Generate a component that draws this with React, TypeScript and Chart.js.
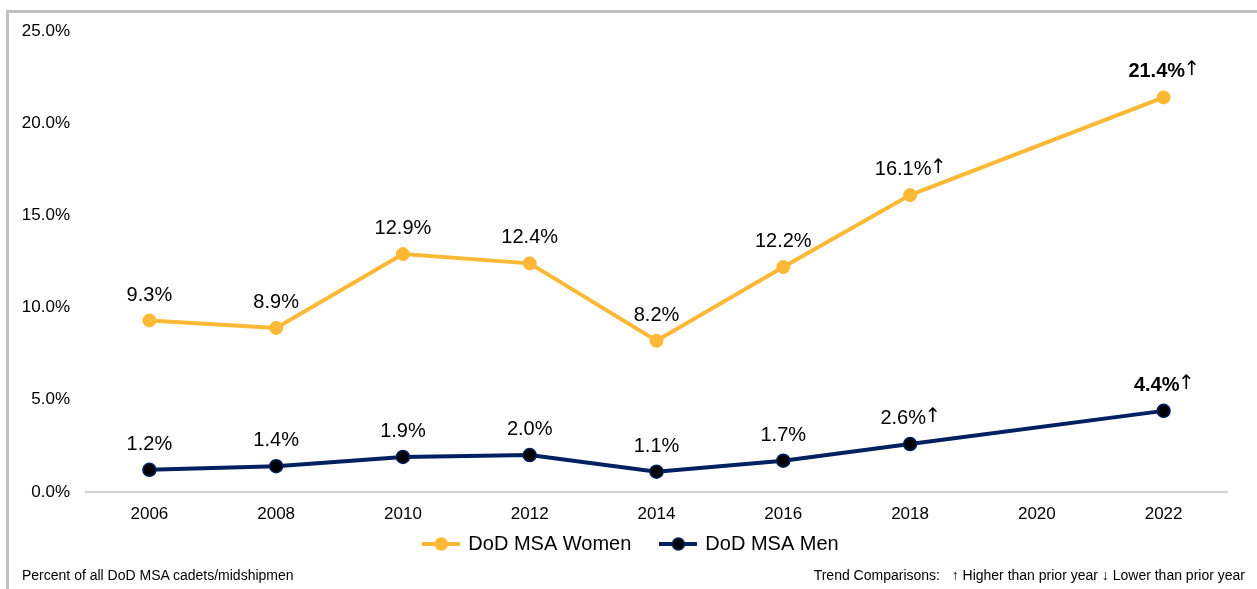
import React, { useEffect, useRef } from "react";
import { Chart, registerables } from "chart.js";

Chart.register(...registerables);

const years = ["2006", "2008", "2010", "2012", "2014", "2016", "2018", "2020", "2022"];
const womenValues: (number | null)[] = [9.3, 8.9, 12.9, 12.4, 8.2, 12.2, 16.1, null, 21.4];
const menValues: (number | null)[] = [1.2, 1.4, 1.9, 2.0, 1.1, 1.7, 2.6, null, 4.4];
const womenLabels = ["9.3%", "8.9%", "12.9%", "12.4%", "8.2%", "12.2%", "16.1%", "", "21.4%"];
const menLabels = ["1.2%", "1.4%", "1.9%", "2.0%", "1.1%", "1.7%", "2.6%", "", "4.4%"];
const arrowIndex = [6, 8];
const boldIndex = [8];
const yTicks = [0, 5, 10, 15, 20, 25];

const WOMEN_COLOR = "#FDB836";
const MEN_COLOR = "#002060";
const FONT = "Arial, 'Liberation Sans', sans-serif";
const ARROW = "↑";

function legendIcon(line: string, fill: string, border: string): HTMLCanvasElement {
  const c = document.createElement("canvas");
  c.width = 38;
  c.height = 16;
  const ctx = c.getContext("2d")!;
  ctx.strokeStyle = line;
  ctx.lineWidth = 4;
  ctx.beginPath();
  ctx.moveTo(0, 8);
  ctx.lineTo(38, 8);
  ctx.stroke();
  ctx.beginPath();
  ctx.arc(19, 8, 6, 0, Math.PI * 2);
  ctx.fillStyle = fill;
  ctx.fill();
  ctx.lineWidth = 1.5;
  ctx.strokeStyle = border;
  ctx.stroke();
  return c;
}

const legendShift = {
  id: "legendShift",
  afterLayout(chart: any) {
    if (chart.legend) {
      chart.legend.top -= 18;
      chart.legend.bottom -= 18;
      chart.legend.left += 18;
      chart.legend.right += 18;
    }
  },
};

const labelPlugin = {
  id: "pointLabels",
  afterDatasetsDraw(chart: any) {
    const ctx = chart.ctx;
    const sets = [womenLabels, menLabels];
    chart.data.datasets.forEach((ds: any, di: number) => {
      const meta = chart.getDatasetMeta(di);
      meta.data.forEach((pt: any, i: number) => {
        const txt = sets[di][i];
        if (!txt || ds.data[i] == null) return;
        ctx.save();
        const mainFont = (boldIndex.includes(i) ? "bold " : "") + "20px " + FONT;
        const arrowFont = "20px 'DejaVu Sans', sans-serif";
        ctx.fillStyle = "#000";
        ctx.textBaseline = "middle";
        ctx.font = mainFont;
        const w1 = ctx.measureText(txt).width;
        let w2 = 0;
        const hasArrow = arrowIndex.includes(i);
        if (hasArrow) {
          ctx.font = arrowFont;
          w2 = ctx.measureText(ARROW).width - 3;
        }
        const total = w1 + w2;
        const x0 = pt.x - total / 2;
        const y = pt.y - 25.5;
        ctx.textAlign = "left";
        ctx.font = mainFont;
        ctx.fillText(txt, x0, y);
        if (hasArrow) {
          ctx.font = arrowFont;
          ctx.fillText(ARROW, x0 + w1 - 1.5, y - 2);
        }
        ctx.restore();
      });
    });
  },
};

export default function App() {
  const ref = useRef<HTMLCanvasElement>(null);
  useEffect(() => {
    const womenIcon = legendIcon(WOMEN_COLOR, WOMEN_COLOR, WOMEN_COLOR);
    const menIcon = legendIcon(MEN_COLOR, "#000", MEN_COLOR);
    const chart = new Chart(ref.current!, {
      type: "line",
      data: {
        labels: years,
        datasets: [
          {
            label: "DoD MSA Women",
            data: womenValues,
            borderColor: WOMEN_COLOR,
            backgroundColor: WOMEN_COLOR,
            pointBackgroundColor: WOMEN_COLOR,
            pointBorderColor: WOMEN_COLOR,
            borderWidth: 4,
            pointRadius: 6.5,
            pointBorderWidth: 1,
            spanGaps: true,
            tension: 0,
          },
          {
            label: "DoD MSA Men",
            data: menValues,
            borderColor: MEN_COLOR,
            backgroundColor: MEN_COLOR,
            pointBackgroundColor: "#000",
            pointBorderColor: MEN_COLOR,
            borderWidth: 4,
            pointRadius: 6.5,
            pointBorderWidth: 1.5,
            spanGaps: true,
            tension: 0,
          },
        ],
      },
      options: {
        animation: false,
        responsive: false,
        layout: { padding: { top: 31, right: 30, bottom: 7, left: 0 } },
        plugins: {
          tooltip: { enabled: false },
          legend: {
            position: "bottom",
            labels: {
              usePointStyle: true,
              pointStyleWidth: 34,
              padding: 30,
              color: "#000",
              font: { family: FONT, size: 20 },
              generateLabels: () => [
                { text: "DoD MSA Women", pointStyle: womenIcon, fillStyle: WOMEN_COLOR, strokeStyle: WOMEN_COLOR, lineWidth: 0, datasetIndex: 0, hidden: false, fontColor: "#000" },
                { text: "DoD MSA Men", pointStyle: menIcon, fillStyle: MEN_COLOR, strokeStyle: MEN_COLOR, lineWidth: 0, datasetIndex: 1, hidden: false, fontColor: "#000" },
              ] as any,
            },
          },
        },
        scales: {
          x: {
            offset: true,
            grid: { display: false, drawTicks: false },
            border: { display: true, color: "#d0d0d0", width: 2 },
            ticks: { color: "#000", font: { family: FONT, size: 17 }, padding: 12, maxRotation: 0 },
            afterFit: (s: any) => { s.height = 30; },
          },
          y: {
            min: 0,
            max: 25,
            afterBuildTicks: (s: any) => { s.ticks = yTicks.map((v) => ({ value: v })); },
            grid: { display: false, drawTicks: false },
            border: { display: false },
            ticks: {
              color: "#000",
              font: { family: FONT, size: 17 },
              padding: 16,
              callback: (v: any) => Number(v).toFixed(1) + "%",
            },
            afterFit: (s: any) => { s.width = 86; },
          },
        },
      },
      plugins: [labelPlugin, legendShift],
    });
    return () => chart.destroy();
  }, []);

  return (
    <div style={{ position: "absolute", left: 0, top: 0, width: 1257, height: 589, overflow: "hidden", background: "#fff", fontFamily: FONT }}>
      <div style={{ position: "absolute", left: 6, top: 10, width: 1400, height: 700, borderTop: "3px solid #c0c0c0", borderLeft: "3px solid #c0c0c0" }} />
      <canvas ref={ref} width={1257} height={589} style={{ position: "absolute", left: 0, top: 0 }} />
      <div style={{ position: "absolute", left: 22, top: 566, fontSize: 14, color: "#000", whiteSpace: "pre", lineHeight: "18px" }}>
        Percent of all DoD MSA cadets/midshipmen
      </div>
      <div style={{ position: "absolute", right: 12, top: 566, fontSize: 14, color: "#000", whiteSpace: "pre", lineHeight: "18px" }}>
        {"Trend Comparisons:   ↑ Higher than prior year ↓ Lower than prior year"}
      </div>
    </div>
  );
}
